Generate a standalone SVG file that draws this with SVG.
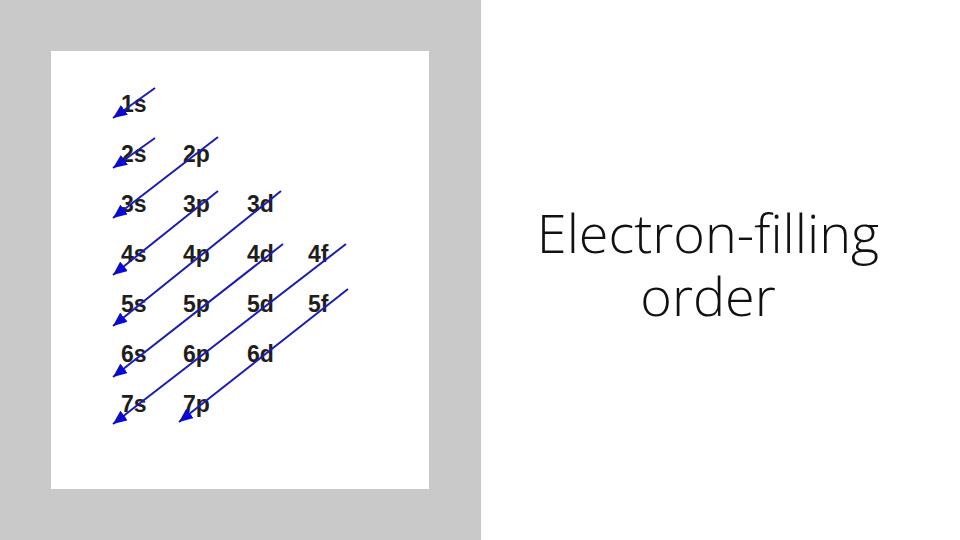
<svg xmlns="http://www.w3.org/2000/svg" width="960" height="540" viewBox="0 0 960 540">
<defs>
<style>
.lbl{font-family:"Liberation Sans",Arial,sans-serif;font-weight:bold;font-size:23px;fill:#1e1e1e;}
.title{font-family:"Open Sans","Liberation Sans",sans-serif;font-weight:300;font-size:54px;fill:#111;text-anchor:middle;}
.arr{stroke:#1c1cb0;stroke-width:2;fill:none;marker-end:url(#ah);}
</style>
<marker id="ah" markerUnits="userSpaceOnUse" markerWidth="16" markerHeight="12" refX="14" refY="6" orient="auto">
<path d="M0,0 L14,6 L0,12 z" fill="#0a0ad0"/>
</marker>
</defs>
<rect x="0" y="0" width="960" height="540" fill="#ffffff"/>
<rect x="0" y="0" width="481" height="540" fill="#c8c9c8"/>
<rect x="51" y="51" width="378" height="438" fill="#ffffff"/>
<g id="labels">
<g id="n1s"><text class="lbl" x="121" y="112">1s</text></g>
<g id="n2s"><text class="lbl" x="121" y="162">2s</text></g>
<g id="n2p"><text class="lbl" x="183" y="162">2p</text></g>
<g id="n3s"><text class="lbl" x="121" y="212">3s</text></g>
<g id="n3p"><text class="lbl" x="183" y="212">3p</text></g>
<g id="n3d"><text class="lbl" x="247" y="212">3d</text></g>
<g id="n4s"><text class="lbl" x="121" y="262">4s</text></g>
<g id="n4p"><text class="lbl" x="183" y="262">4p</text></g>
<g id="n4d"><text class="lbl" x="247" y="262">4d</text></g>
<g id="n4f"><text class="lbl" x="308" y="262">4f</text></g>
<g id="n5s"><text class="lbl" x="121" y="312">5s</text></g>
<g id="n5p"><text class="lbl" x="183" y="312">5p</text></g>
<g id="n5d"><text class="lbl" x="247" y="312">5d</text></g>
<g id="n5f"><text class="lbl" x="308" y="312">5f</text></g>
<g id="n6s"><text class="lbl" x="121" y="362">6s</text></g>
<g id="n6p"><text class="lbl" x="183" y="362">6p</text></g>
<g id="n6d"><text class="lbl" x="247" y="362">6d</text></g>
<g id="n7s"><text class="lbl" x="121" y="412">7s</text></g>
<g id="n7p"><text class="lbl" x="183" y="412">7p</text></g>
</g>
<g id="connectors">
<line class="arr" x1="155" y1="88" x2="113" y2="118"/>
<line class="arr" x1="155" y1="138" x2="113" y2="168"/>
<line class="arr" x1="218" y1="137" x2="113" y2="218"/>
<line class="arr" x1="218" y1="191" x2="113" y2="275"/>
<line class="arr" x1="281" y1="191" x2="113" y2="326"/>
<line class="arr" x1="283" y1="244" x2="113" y2="377"/>
<line class="arr" x1="346" y1="244" x2="113" y2="424"/>
<line class="arr" x1="348" y1="289" x2="179" y2="422"/>
</g>
<g id="title">
<text class="title"><tspan x="708" y="253">Electron-filling</tspan><tspan x="708" y="316">order</tspan></text>
</g>
</svg>
